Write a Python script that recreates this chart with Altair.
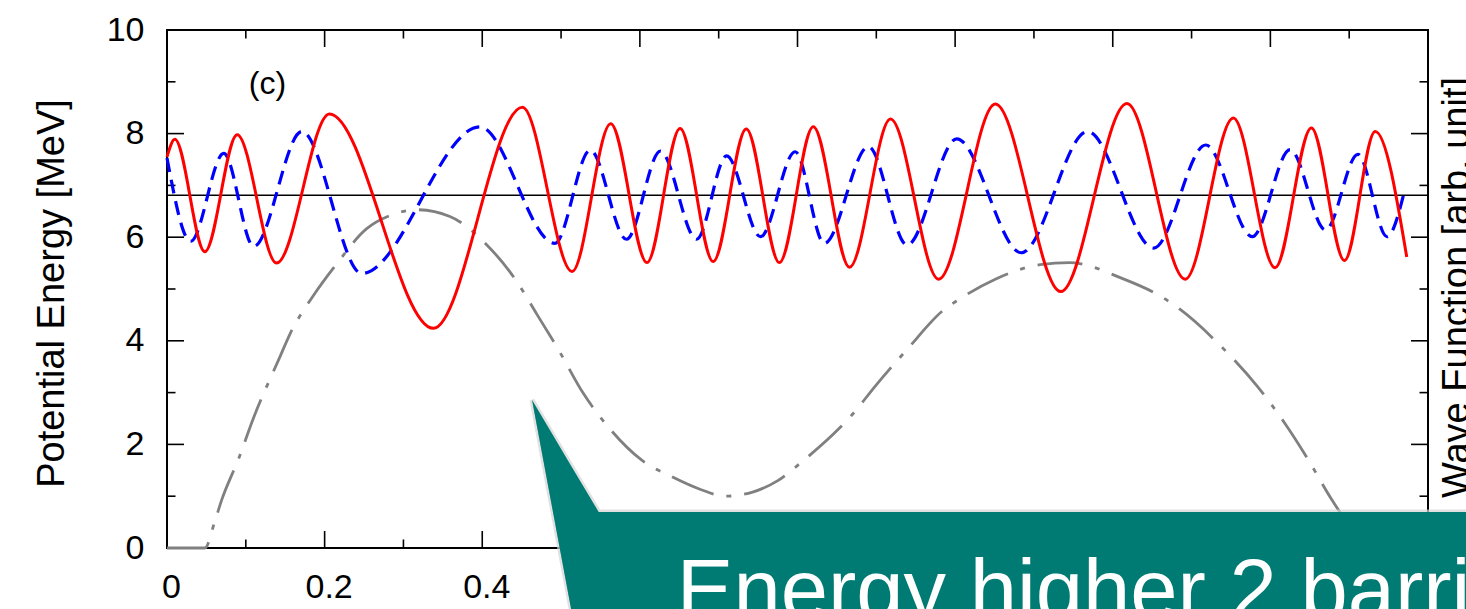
import altair as alt
import pandas as pd

# ---------------- data ----------------
# potential (grey dash-dot)
pot_x = [0.0, 0.048, 0.061, 0.069, 0.091, 0.110, 0.143, 0.156, 0.186, 0.215, 0.253, 0.285, 0.317,
         0.359, 0.404, 0.444, 0.469, 0.497, 0.528, 0.563, 0.602, 0.640, 0.677, 0.708, 0.743, 0.775,
         0.806, 0.853, 0.868, 0.900, 0.940, 0.985, 1.004, 1.051, 1.108, 1.145, 1.211, 1.264,
         1.286, 1.335, 1.384, 1.420, 1.447, 1.478, 1.510, 1.530, 1.600]
pot_y = [0.0, 0.0, 0.53, 0.91, 1.73, 2.52, 3.68, 4.13, 4.88, 5.48, 6.16, 6.43, 6.53,
         6.40, 5.88, 5.14, 4.52, 3.82, 2.99, 2.28, 1.70, 1.38, 1.13, 1.00, 1.08, 1.30,
         1.67, 2.31, 2.55, 3.15, 3.85, 4.59, 4.79, 5.19, 5.47, 5.51, 5.21, 4.83,
         4.60, 3.93, 3.11, 2.37, 1.73, 0.93, 0.25, 0.0, 0.0]

# wave function 1 (red solid)
red_x = [0.000, 0.010, 0.048, 0.089, 0.139, 0.206, 0.338, 0.451, 0.514, 0.563, 0.609,
         0.651, 0.693, 0.735, 0.777, 0.820, 0.866, 0.918, 0.979, 1.051, 1.134, 1.218, 1.292,
         1.353, 1.406, 1.452, 1.494, 1.533, 1.573]
red_y = [7.55, 7.89, 5.72, 7.98, 5.50, 8.38, 4.24, 8.51, 5.34, 8.19, 5.51,
         8.10, 5.53, 8.09, 5.51, 8.13, 5.42, 8.28, 5.19, 8.57, 4.95, 8.58, 5.19,
         8.30, 5.41, 8.11, 5.55, 8.04, 5.62]

# wave function 2 (blue dashed)
blue_x = [0.000, 0.030, 0.072, 0.110, 0.171, 0.247, 0.397, 0.492, 0.537, 0.583, 0.626, 0.672,
          0.710, 0.753, 0.797, 0.834, 0.890, 0.939, 1.002, 1.084, 1.168, 1.252, 1.318, 1.377,
          1.425, 1.470, 1.511, 1.548, 1.570]
blue_y = [7.53, 5.92, 7.62, 5.82, 8.04, 5.30, 8.13, 5.88, 7.68, 5.96, 7.66, 5.96,
          7.57, 6.01, 7.65, 5.88, 7.75, 5.85, 7.90, 5.70, 8.04, 5.79, 7.78, 6.01,
          7.69, 6.14, 7.60, 6.01, 6.88]

energy_level = [6.81]

x_major = [0, 0.2, 0.4, 0.6, 0.8, 1.0, 1.2, 1.4, 1.6]
x_minor = [0.1, 0.3, 0.5, 0.7, 0.9, 1.1, 1.3, 1.5]
x_labels_visible = [0, 0.2, 0.4]      # the others sit under the callout box
y_major = [0, 2, 4, 6, 8, 10]
y_minor = [1, 3, 5, 7, 9]

panel_label = ["(c)"]
panel_label_x = [0.1275]
panel_label_y = [8.96]

# callout shape (outline vertices, in axis units) and its text
callout_x = [0.4632, 0.5130, 0.5477, 1.6600]
callout_top = [2.857, 1.580, 0.695, 0.695]
callout_bottom = [2.857, -1.200, -1.200, -1.200]
callout_text = ["Energy higher 2 barriers"]

# ---------------- chart ----------------
FONT = "Liberation Sans"
W, H = 1261, 518
xs = alt.Scale(domain=[0, 1.6], nice=False, zero=False)
ys = alt.Scale(domain=[0, 10], nice=False, zero=False)

one = pd.DataFrame({"a": [0]})
pot = pd.DataFrame({"x": pot_x, "y": pot_y})
red = pd.DataFrame({"x": red_x, "y": red_y})
blue = pd.DataFrame({"x": blue_x, "y": blue_y})

FR = dict(color="black", strokeWidth=2, strokeCap="square")
frame = [
    alt.Chart(one).mark_rule(**FR).encode(x=alt.value(0), x2=alt.value(W), y=alt.value(0)),
    alt.Chart(one).mark_rule(**FR).encode(x=alt.value(0), x2=alt.value(W), y=alt.value(H)),
    alt.Chart(one).mark_rule(**FR).encode(x=alt.value(0), y=alt.value(0), y2=alt.value(H)),
    alt.Chart(one).mark_rule(**FR).encode(x=alt.value(W), y=alt.value(0), y2=alt.value(H)),
]

left_axis = alt.Axis(values=y_major, format="d", ticks=False, domain=False, grid=False,
                     labelFont=FONT, labelFontSize=34, labelPadding=23, labelColor="black",
                     title="Potential Energy [MeV]", titleFont=FONT, titleFontSize=38,
                     titleFontWeight="normal", titleColor="black", titleAngle=270,
                     titleAlign="center", titleBaseline="alphabetic", titleX=-104, titleY=263)
right_axis = alt.Axis(orient="right", labels=False, ticks=False, domain=False, grid=False,
                      title="Wave Function [arb. unit]", titleFont=FONT, titleFontSize=38,
                      titleFontWeight="normal", titleColor="black", titleAngle=270,
                      titleAlign="center", titleBaseline="alphabetic", titleX=40, titleY=257)
bottom_axis = alt.Axis(orient="bottom", values=x_labels_visible, format="~g", ticks=False,
                       domain=False, grid=False, labelFont=FONT, labelFontSize=34,
                       labelPadding=22, labelOffset=4, labelColor="black", labelFlush=False,
                       labelOverlap=False, title=None)

ymaj = pd.DataFrame({"v": y_major})
ymin = pd.DataFrame({"v": y_minor})
xmaj = pd.DataFrame({"v": x_major})
xmin = pd.DataFrame({"v": x_minor})

TK = dict(color="black", strokeWidth=1.6)
ticks = [
    alt.Chart(ymaj).mark_rule(**TK).encode(
        y=alt.Y("v:Q", scale=ys, axis=left_axis), x=alt.value(0), x2=alt.value(17)),
    alt.Chart(ymin).mark_rule(**TK).encode(
        y=alt.Y("v:Q", scale=ys, axis=None), x=alt.value(0), x2=alt.value(8.5)),
    alt.Chart(ymaj).mark_rule(**TK).encode(
        y=alt.Y("v:Q", scale=ys, axis=right_axis), x=alt.value(W - 17), x2=alt.value(W)),
    alt.Chart(ymin).mark_rule(**TK).encode(
        y=alt.Y("v:Q", scale=ys, axis=None), x=alt.value(W - 8.5), x2=alt.value(W)),
    alt.Chart(xmaj).mark_rule(**TK).encode(
        x=alt.X("v:Q", scale=xs, axis=bottom_axis), y=alt.value(H - 17), y2=alt.value(H)),
    alt.Chart(xmin).mark_rule(**TK).encode(
        x=alt.X("v:Q", scale=xs, axis=None), y=alt.value(H - 8.5), y2=alt.value(H)),
    alt.Chart(xmaj).mark_rule(**TK).encode(
        x=alt.X("v:Q", scale=xs, axis=None), y=alt.value(0), y2=alt.value(17)),
    alt.Chart(xmin).mark_rule(**TK).encode(
        x=alt.X("v:Q", scale=xs, axis=None), y=alt.value(0), y2=alt.value(8.5)),
]

hline = alt.Chart(pd.DataFrame({"e": energy_level})).mark_rule(color="black", strokeWidth=1.3).encode(
    y=alt.Y("e:Q", scale=ys, axis=None), x=alt.value(0), x2=alt.value(W))

pot_line = alt.Chart(pot).mark_line(color="#808080", strokeWidth=2.8, interpolate="monotone",
                                    strokeDash=[45, 13, 5, 13]).encode(
    x=alt.X("x:Q", scale=xs, axis=None), y=alt.Y("y:Q", scale=ys, axis=None))

blue_line = alt.Chart(blue).mark_line(color="#0000FF", strokeWidth=3.2, interpolate="monotone",
                                      strokeDash=[14, 8]).encode(
    x=alt.X("x:Q", scale=xs, axis=None), y=alt.Y("y:Q", scale=ys, axis=None))

red_line = alt.Chart(red).mark_line(color="#FF0000", strokeWidth=3, interpolate="monotone").encode(
    x=alt.X("x:Q", scale=xs, axis=None), y=alt.Y("y:Q", scale=ys, axis=None))

label_c = alt.Chart(pd.DataFrame({"t": panel_label, "x": panel_label_x, "y": panel_label_y})).mark_text(
    font=FONT, fontSize=32, color="black", align="center", baseline="middle").encode(
    x=alt.X("x:Q", scale=xs, axis=None), y=alt.Y("y:Q", scale=ys, axis=None), text="t:N")

co = pd.DataFrame({"x": callout_x, "top": callout_top, "bot": callout_bottom})
callout_shadow = alt.Chart(co).mark_area(color="#007B74", stroke="#d4d4d4", strokeWidth=5,
                                         strokeOpacity=0.7, interpolate="linear").encode(
    x=alt.X("x:Q", scale=xs, axis=None), y=alt.Y("top:Q", scale=ys, axis=None), y2="bot:Q")
callout = alt.Chart(co).mark_area(color="#007B74", interpolate="linear", opacity=1).encode(
    x=alt.X("x:Q", scale=xs, axis=None), y=alt.Y("top:Q", scale=ys, axis=None), y2="bot:Q")
callout_label = alt.Chart(pd.DataFrame({"t": callout_text})).mark_text(
    font=FONT, fontSize=85, color="white", align="left", baseline="alphabetic").encode(
    x=alt.value(509.7), y=alt.value(589), text="t:N")

chart = alt.layer(
    *frame, *ticks, hline, pot_line, blue_line, red_line, label_c,
    callout_shadow, callout, callout_label
).resolve_axis(x="independent", y="independent").properties(
    width=W, height=H,
    autosize=alt.AutoSizeParams(type="none"),
    padding={"left": 167, "top": 30, "right": 38, "bottom": 61},
    background="white",
).configure_view(strokeWidth=0)

chart.save("out.html", embed_options={"renderer": "svg", "actions": False})
